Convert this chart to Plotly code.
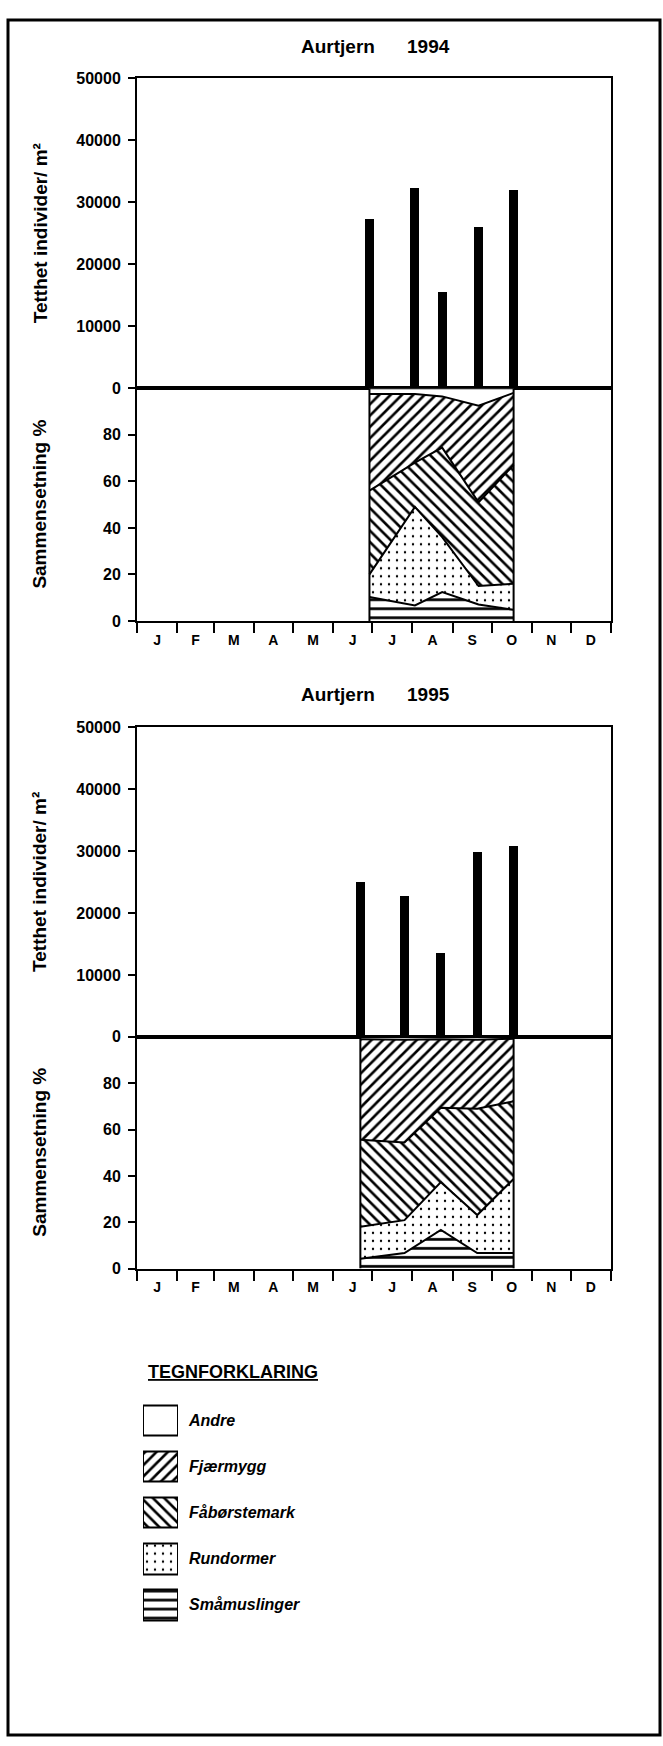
import pandas as pd
import plotly.graph_objects as go

# ---------------- data ----------------
sample_dates_1994 = ['1994-06-29', '1994-08-03', '1994-08-24', '1994-09-21', '1994-10-18']
sample_dates_1995 = ['1995-06-22', '1995-07-26', '1995-08-23', '1995-09-20', '1995-10-18']

density_1994 = [27300, 32200, 15400, 26000, 31900]
density_1995 = [25000, 22700, 13600, 29800, 30800]

# percent composition per group (stacked bottom -> top)
groups = ['Småmuslinger', 'Rundormer', 'Fåbørstemark', 'Fjærmygg', 'Andre']

smamuslinger_1994 = [10.3, 6.7, 12.4, 7.1, 4.8]
rundormer_1994 = [9.7, 42.3, 23.6, 7.9, 11.2]
faborstemark_1994 = [36.0, 19.0, 38.5, 36.0, 51.0]
fjaermygg_1994 = [41.5, 29.5, 22.0, 41.5, 31.0]
andre_1994 = [2.5, 2.5, 3.5, 7.5, 2.0]

smamuslinger_1995 = [4.3, 6.7, 16.7, 6.7, 6.7]
rundormer_1995 = [13.8, 14.2, 20.6, 16.4, 32.0]
faborstemark_1995 = [37.5, 33.5, 32.1, 45.9, 33.5]
fjaermygg_1995 = [43.4, 44.4, 29.6, 29.8, 27.0]
andre_1995 = [1.0, 1.2, 1.0, 1.2, 0.8]

month_letters = ['J', 'F', 'M', 'A', 'M', 'J', 'J', 'A', 'S', 'O', 'N', 'D']
density_ticks = [0, 10000, 20000, 30000, 40000, 50000]
percent_ticks = [0, 20, 40, 60, 80]
legend_order = ['Andre', 'Fjærmygg', 'Fåbørstemark', 'Rundormer', 'Småmuslinger']
legend_title = 'TEGNFORKLARING'
chart_title = 'Aurtjern'
density_title = 'Tetthet individer/ m²'
percent_title = 'Sammensetning %'

# ---------------- styles ----------------
W, H = 663, 1746
FONT = 'Liberation Sans, Arial, sans-serif'
patterns = {
    'Småmuslinger': dict(shape='-', size=9, solidity=0.3),
    'Rundormer': dict(shape='.', size=8, solidity=0.07),
    'Fåbørstemark': dict(shape='\\', size=8, solidity=0.33),
    'Fjærmygg': dict(shape='/', size=8, solidity=0.33),
    'Andre': dict(shape='', size=8, solidity=0.3),
}


def xd(a, b):
    return [a / W, b / W]


def yd(top, bottom):
    return [1 - bottom / H, 1 - top / H]


def ypx(y):
    return 1 - y / H


fig = go.Figure()

years = [
    dict(year=1994, dates=sample_dates_1994, density=density_1994,
         comp=[smamuslinger_1994, rundormer_1994, faborstemark_1994, fjaermygg_1994, andre_1994],
         top=71, mid=384, bot=619, title_y=39),
    dict(year=1995, dates=sample_dates_1995, density=density_1995,
         comp=[smamuslinger_1995, rundormer_1995, faborstemark_1995, fjaermygg_1995, andre_1995],
         top=726, mid=1039, bot=1273, title_y=693),
]

bar_width_ms = 6.9 * 86400000
annotations = []

for i, yr in enumerate(years):
    xa_d = 'x%d' % (2 * i + 1) if i else 'x'
    ya_d = 'y%d' % (2 * i + 1) if i else 'y'
    xa_p = 'x%d' % (2 * i + 2)
    ya_p = 'y%d' % (2 * i + 2)
    y0 = yr['year']
    month_starts = pd.date_range('%d-01-01' % y0, '%d-01-01' % (y0 + 1), freq='MS')
    mids = [month_starts[k] + (month_starts[k + 1] - month_starts[k]) / 2 for k in range(12)]
    xrange = [str(month_starts[0].date()), str(month_starts[-1].date())]

    fig.add_trace(go.Bar(x=yr['dates'], y=yr['density'], width=bar_width_ms,
                         marker=dict(color='black', line=dict(width=0)),
                         xaxis=xa_d, yaxis=ya_d, showlegend=False))

    for g, vals in zip(groups, yr['comp']):
        p = patterns[g]
        fp = dict(shape=p['shape'], fgcolor='black', bgcolor='white', fgopacity=1,
                  size=p['size'], solidity=p['solidity'])
        fig.add_trace(go.Scatter(x=yr['dates'], y=vals, stackgroup='s%d' % y0, mode='lines',
                                 line=dict(color='black', width=2), fillcolor='white',
                                 fillpattern=fp, name=g, showlegend=False,
                                 xaxis=xa_p, yaxis=ya_p))
    d = yr['dates']
    fig.add_trace(go.Scatter(x=[d[0], d[0], None, d[-1], d[-1]], y=[0, 100, None, 0, 100],
                             mode='lines', line=dict(color='black', width=2),
                             showlegend=False, xaxis=xa_p, yaxis=ya_p))

    common_x = dict(domain=xd(137, 611), range=xrange, type='date', showgrid=False,
                    zeroline=False, showline=True, linecolor='black', linewidth=2, mirror=True)
    fig.layout[('xaxis%d' % (2 * i + 1)) if i else 'xaxis'] = dict(
        common_x, anchor=ya_d, showticklabels=False, ticks='')
    fig.layout['xaxis%d' % (2 * i + 2)] = dict(
        common_x, anchor=ya_p, tickmode='array', tickvals=mids, ticktext=month_letters,
        ticks='', ticklabelstandoff=5,
        tickfont=dict(family=FONT, size=14, color='black', weight='bold'),
        minor=dict(tickmode='array', tickvals=list(month_starts), ticks='outside',
                   ticklen=10, tickwidth=1.5, tickcolor='black'))
    common_y = dict(showgrid=False, zeroline=False, showline=True, linecolor='black',
                    linewidth=2, mirror=True, ticks='outside', ticklen=7, tickwidth=1.5,
                    tickcolor='black', ticklabelstandoff=4,
                    tickfont=dict(family=FONT, size=16, color='black', weight='bold'))
    fig.layout[('yaxis%d' % (2 * i + 1)) if i else 'yaxis'] = dict(
        common_y, domain=yd(yr['top'], yr['mid']), range=[0, 50000], tickmode='array',
        tickvals=density_ticks, tickformat='d', anchor=xa_d)
    fig.layout['yaxis%d' % (2 * i + 2)] = dict(
        common_y, domain=yd(yr['mid'], yr['bot']), range=[0, 100], tickmode='array',
        tickvals=percent_ticks, anchor=xa_p)

    annotations += [
        dict(text=chart_title, x=338 / W, y=ypx(yr['title_y']), xref='paper', yref='paper',
             xanchor='center', yanchor='middle', showarrow=False,
             font=dict(family=FONT, size=19, color='black', weight='bold')),
        dict(text=str(y0), x=428 / W, y=ypx(yr['title_y']), xref='paper', yref='paper',
             xanchor='center', yanchor='middle', showarrow=False,
             font=dict(family=FONT, size=19, color='black', weight='bold')),
        dict(text=density_title, x=40 / W, y=ypx((yr['top'] + yr['mid']) / 2), xref='paper',
             yref='paper', xanchor='center', yanchor='middle', textangle=-90, showarrow=False,
             font=dict(family=FONT, size=19, color='black', weight='bold')),
        dict(text=percent_title, x=40 / W, y=ypx((yr['mid'] + yr['bot']) / 2), xref='paper',
             yref='paper', xanchor='center', yanchor='middle', textangle=-90, showarrow=False,
             font=dict(family=FONT, size=19, color='black', weight='bold')),
    ]

# ---------------- legend (pattern swatches) ----------------
fig.add_trace(go.Bar(
    orientation='h', y=legend_order, x=[1] * len(legend_order), width=0.667,
    marker=dict(color='white', line=dict(color='black', width=2),
                pattern=dict(shape=[patterns[g]['shape'] for g in legend_order],
                             size=[patterns[g]['size'] for g in legend_order],
                             solidity=[patterns[g]['solidity'] for g in legend_order],
                             fgcolor='black', bgcolor='white', fgopacity=1)),
    xaxis='x5', yaxis='y5', showlegend=False))
fig.layout['xaxis5'] = dict(domain=xd(143, 178), range=[0, 1], visible=False, anchor='y5')
fig.layout['yaxis5'] = dict(domain=yd(1403.25, 1635.75), anchor='x5', side='right',
                            type='category', categoryorder='array', categoryarray=legend_order,
                            autorange='reversed', showgrid=False, zeroline=False, showline=False,
                            ticks='', ticklabelstandoff=10,
                            tickfont=dict(family=FONT, size=16, color='black', weight='bold',
                                          style='italic'))
annotations.append(dict(text='<u>%s</u>' % legend_title, x=146 / W, y=ypx(1377), xref='paper',
                        yref='paper', xanchor='left', yanchor='middle', showarrow=False,
                        font=dict(family=FONT, size=18, color='black', weight='bold')))

fig.update_layout(
    width=W, height=H, autosize=False, margin=dict(l=0, r=0, t=0, b=0, pad=0),
    paper_bgcolor='white', plot_bgcolor='white', showlegend=False, bargap=0,
    annotations=annotations,
    shapes=[dict(type='rect', xref='paper', yref='paper', x0=8 / W, x1=660 / W,
                 y0=ypx(1744), y1=ypx(12), line=dict(color='black', width=3))],
)

fig.write_html('out.html')
